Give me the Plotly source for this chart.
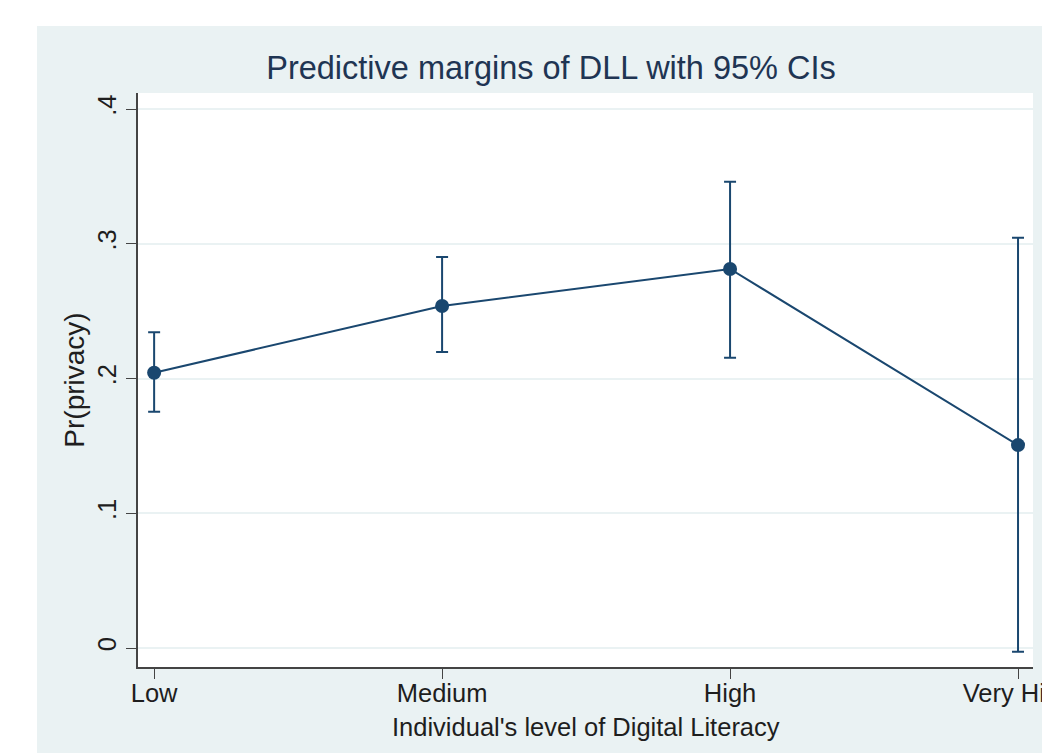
import plotly.graph_objects as go

# Predictive margins of DLL with 95% confidence intervals
levels = ["Low", "Medium", "High", "Very High"]
margin = [0.2043, 0.2538, 0.2813, 0.1506]
ci_low = [0.1754, 0.2197, 0.2154, -0.0027]
ci_high = [0.2343, 0.2902, 0.3461, 0.3045]
y_ticks = [0, 0.1, 0.2, 0.3, 0.4]
y_tick_labels = ["0", ".1", ".2", ".3", ".4"]

NAVY = "#1A476F"
BG = "#EAF2F3"
TXT = "#1E1E1E"
W, H = 1042, 753
L, R, T, B = 138, 9, 93, 86

xpos = list(range(1, len(levels) + 1))
err_plus = [h - m for h, m in zip(ci_high, margin)]
err_minus = [m - l for m, l in zip(margin, ci_low)]

fig = go.Figure()
fig.add_trace(go.Scatter(
    x=xpos, y=margin,
    mode="lines+markers",
    line=dict(color=NAVY, width=2),
    marker=dict(color=NAVY, size=14),
    error_y=dict(type="data", symmetric=False, array=err_plus, arrayminus=err_minus,
                 color=NAVY, thickness=2, width=6),
    showlegend=False,
))

pw, ph = W - L - R, H - T - B
fig.update_layout(
    width=W, height=H,
    margin=dict(l=L, r=R, t=T, b=B, autoexpand=False),
    paper_bgcolor=BG,
    plot_bgcolor="white",
    font=dict(family="Liberation Sans, Arial, sans-serif", color=TXT),
    title=dict(text="Predictive margins of DLL with 95% CIs",
               x=(551 - L) / pw, xref="paper", xanchor="center",
               y=1 - 68 / H, yanchor="middle",
               font=dict(size=32.5, color="#1F3553")),
    xaxis=dict(
        range=[0.944, 4.052], automargin=False,
        tickmode="array", tickvals=xpos, ticktext=levels,
        ticks="outside", ticklen=10, tickwidth=1.3, tickcolor="#444444",
        showline=True, linecolor="#444444", linewidth=1.5,
        showgrid=False, zeroline=False, ticklabeloverflow="allow",
        ticklabelstandoff=-7,
        tickfont=dict(size=25.5, color=TXT),
    ),
    yaxis=dict(
        range=[-0.0141, 0.4119], automargin=False,
        tickmode="array", tickvals=y_ticks, ticktext=y_tick_labels,
        tickangle=-90,
        ticks="outside", ticklen=10, tickwidth=1.3, tickcolor="#444444",
        showline=True, linecolor="#444444", linewidth=1.5,
        showgrid=True, gridcolor=BG, gridwidth=1.5, zeroline=False,
        tickfont=dict(size=25.5, color=TXT),
        title=dict(text="Pr(privacy)", font=dict(size=28, color=TXT), standoff=0),
    ),
    annotations=[
        # x-axis title
        dict(text="Individual's level of Digital Literacy", xref="paper", yref="paper",
             x=0.5, xanchor="center", y=-(727 - (H - B)) / ph, yanchor="middle",
             showarrow=False, font=dict(size=25.5, color=TXT)),
    ],
    shapes=[
        # white outer border strips (left and top)
        dict(type="rect", xref="paper", yref="paper", layer="below",
             x0=-L / pw, x1=(37 - L) / pw, y0=-B / ph, y1=1 + T / ph,
             fillcolor="white", line=dict(width=0)),
        dict(type="rect", xref="paper", yref="paper", layer="below",
             x0=-L / pw, x1=1 + R / pw, y0=1 + (T - 26) / ph, y1=1 + T / ph,
             fillcolor="white", line=dict(width=0)),
    ],
)

fig.write_html("out.html")
